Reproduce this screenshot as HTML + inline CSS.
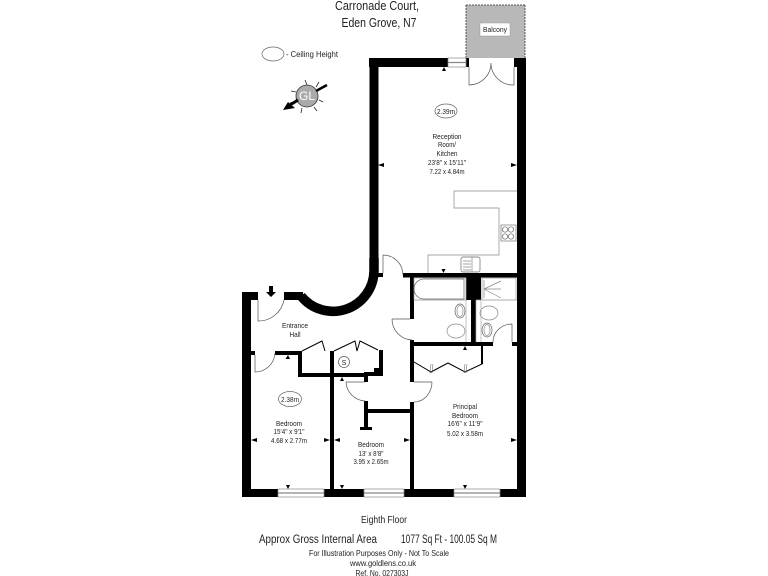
<!DOCTYPE html>
<html><head><meta charset="utf-8"><style>
html,body{margin:0;padding:0;background:#fff}
svg{display:block}
text{font-family:"Liberation Sans",sans-serif;fill:#222;text-anchor:middle;font-size:7.5px}
.s{text-anchor:start}
</style></head><body>
<svg width="768" height="576" viewBox="0 0 768 576" xmlns="http://www.w3.org/2000/svg">
<!-- balcony -->
<rect x="466" y="5" width="59" height="53" fill="#b8b8b8"/>
<path d="M466 5H525M466 5V58M525 5V58" fill="none" stroke="#555" stroke-width="1" stroke-dasharray="2 1"/>
<rect x="480" y="23" width="30" height="13" fill="#fff" stroke="#999" stroke-width=".5"/>
<text x="495" y="32" textLength="24" lengthAdjust="spacingAndGlyphs">Balcony</text>
<!-- solid walls -->
<g fill="#000">
<rect x="369" y="58" width="79" height="9"/>
<rect x="466" y="58" width="3" height="9"/>
<rect x="514" y="58" width="12" height="9"/>
<rect x="369.500" y="58" width="9" height="204"/>
<rect x="517" y="58" width="9" height="439"/>
<rect x="403" y="273" width="114" height="4.500"/>
<rect x="378" y="273" width="5" height="4"/>
<rect x="410" y="273" width="4" height="46"/>
<rect x="466" y="273" width="15" height="27"/>
<rect x="471" y="300" width="5" height="43"/>
<rect x="410" y="342" width="83" height="4"/>
<rect x="512" y="342" width="5" height="4"/>
<rect x="410" y="340" width="4" height="42"/>
<rect x="481" y="346" width="2" height="18"/>
<rect x="242" y="292" width="9" height="205"/>
<rect x="242" y="292" width="16" height="8"/>
<rect x="284" y="292" width="19" height="8"/>
<rect x="242" y="489" width="36" height="8"/>
<rect x="324" y="489" width="40" height="8"/>
<rect x="404" y="489" width="50" height="8"/>
<rect x="500" y="489" width="26" height="8"/>
<rect x="251" y="351" width="4" height="4"/>
<rect x="275" y="351" width="27" height="4"/>
<rect x="298" y="351" width="4" height="26"/>
<rect x="298" y="373" width="70" height="4"/>
<rect x="364" y="373" width="4" height="9"/>
<rect x="330" y="351" width="4" height="146"/>
<rect x="379" y="350" width="4" height="26"/>
<rect x="364" y="372" width="19" height="4"/>
<rect x="374" y="368" width="9" height="8"/>
<rect x="410" y="402" width="4" height="87"/>
<rect x="368" y="409" width="42" height="4"/>
<rect x="364" y="401" width="4" height="27"/>
<rect x="360" y="427" width="12" height="3"/>
</g>
<path d="M374 258V271A41 41 0 0 1 301 296" fill="none" stroke="#000" stroke-width="9.500"/>
<!-- windows -->
<g fill="#fff" stroke="#888" stroke-width=".7">
<rect x="448" y="58" width="18" height="9"/>
<rect x="278" y="489" width="46" height="8"/>
<rect x="364" y="489" width="40" height="8"/>
<rect x="454" y="489" width="46" height="8"/>
</g>
<path d="M448 62.500H466M278 493H324M364 493H404M454 493H500" stroke="#888" stroke-width="1.200" fill="none"/>
<!-- doors -->
<g fill="none" stroke="#555" stroke-width=".7">
<path d="M469 67V85A22 22 0 0 0 491 63A22 22 0 0 0 514 85V67"/>
<path d="M258 300V321A26 26 0 0 0 284 300"/>
<path d="M255 355V372A20 20 0 0 0 275 353"/>
<path d="M383 255V273M383 255A20 20 0 0 1 403 275"/>
<path d="M392 319H410M392 319A21 21 0 0 0 412 340"/>
<path d="M346 382H365M346 382A20 20 0 0 0 365 401"/>
<path d="M414 382H432M432 382A18 20 0 0 1 414 402"/>
<path d="M493 343V342A19 18 0 0 1 512 324V342"/>
<!-- kitchen -->
<path d="M517 191H454V208H499V255H428V273" stroke="#888"/>
<rect x="501" y="225" width="15" height="16" stroke="#777"/>
<circle cx="505" cy="229.500" r="2.700" stroke="#666"/><circle cx="511" cy="229.500" r="2.700" stroke="#666"/>
<circle cx="505" cy="236.500" r="2.700" stroke="#666"/><circle cx="511" cy="236.500" r="2.700" stroke="#666"/>
<rect x="461" y="257" width="19" height="15" rx="2" stroke="#666"/>
<path d="M472 257V272M463 261H471M463 264H471M463 267H471M463 270H471" stroke="#888"/>
<!-- bath / shower -->
<rect x="414" y="278" width="52" height="22" stroke="#999"/>
<path d="M464 279H424A10 10 0 0 0 424 299H464Z" stroke="#666"/>
<rect x="482" y="278" width="34" height="22" stroke="#999"/>
<path d="M484 289H501M484 289L501 281M484 289L501 298M484 280V298" stroke="#888"/>
<path d="M414 300H466M476 300H517M466 300V342M481 300V342M476 300V342" stroke="#aaa"/>
<ellipse cx="460" cy="311" rx="5" ry="7" stroke="#666"/><ellipse cx="460" cy="311" rx="3" ry="5.500" stroke="#888"/>
<ellipse cx="456" cy="331" rx="9" ry="7" stroke="#888"/>
<ellipse cx="489" cy="313" rx="9" ry="7" stroke="#888"/>
<ellipse cx="487" cy="330" rx="5" ry="7" stroke="#666"/><ellipse cx="487" cy="330" rx="3" ry="5.500" stroke="#888"/>
</g>
<!-- folding / closet doors -->
<g fill="none" stroke="#000" stroke-width="1">
<path d="M414 362L431 372L448 363L465 372L482 364"/>
<path d="M302 351L322 341L325 351"/>
<path d="M334 351L355 341L357 351L360 341L378 350"/>
</g>
<path d="M430 373L431 364M432 373L433 364M464 373L465 364M466 373L467 364" stroke="#555" stroke-width=".5"/>
<circle cx="344" cy="362" r="5.500" fill="#fff" stroke="#555" stroke-width=".7"/>
<text x="344" y="365" style="font-size:7px">S</text>
<!-- markers -->
<g fill="#000">
<path d="M442 71L444 67L446 71ZM441.500 269H445.500L443.500 273ZM463 350L465 346L467 350Z"/>
<path d="M285.500 359L288 355L290 359ZM340 381L342 377L344 381Z"/>
<path d="M286 485H290L288 489ZM340 485H344L342 489ZM463 485H467L465 489Z"/>
<path d="M378 165L384 163V167ZM517 165L511 163V167Z"/>
<path d="M251 440L257 438V442ZM330 440L324 438V442ZM334 440L340 438V442ZM410 440L404 438V442ZM517 440L511 438V442Z"/>
<path d="M269 286H273V292H276L271 297L266 292H269Z"/>
</g>
<!-- ceiling ellipses -->
<g fill="#fff" stroke="#666" stroke-width=".7">
<ellipse cx="273" cy="54" rx="11" ry="7"/>
<ellipse cx="446" cy="111" rx="11" ry="7"/>
<ellipse cx="290" cy="399" rx="11.500" ry="7.500"/>
</g>
<!-- compass -->
<g stroke="#222" stroke-width=".8">
<path d="M307 85L305 80M316 87L319 82M319 100L323 102M314 107L317 111M302 108L301 113M296 101L290 103M296 92L291 91"/>
</g>
<circle cx="307" cy="96" r="11" fill="#aaa" stroke="#333" stroke-width=".8"/>
<text x="307" y="100" style="font-size:12px;fill:#fff">GL</text>
<path d="M316 91L327 85" stroke="#000" stroke-width="2.500"/>
<path d="M298 100L290 105" stroke="#000" stroke-width="3"/>
<path d="M283 110L288 102L295 108Z" fill="#000"/>
<!-- labels -->
<text x="377" y="10" style="font-size:13px" textLength="84" lengthAdjust="spacingAndGlyphs">Carronade Court,</text>
<text x="379" y="27" style="font-size:13px" textLength="75" lengthAdjust="spacingAndGlyphs">Eden Grove, N7</text>
<text class="s" x="286" y="57" style="font-size:8px" textLength="52" lengthAdjust="spacingAndGlyphs">- Ceiling Height</text>
<text x="446" y="114" textLength="18" lengthAdjust="spacingAndGlyphs">2.39m</text>
<text x="447" y="139" textLength="29" lengthAdjust="spacingAndGlyphs">Reception</text>
<text x="447" y="147" textLength="18" lengthAdjust="spacingAndGlyphs">Room/</text>
<text x="447" y="156" textLength="21" lengthAdjust="spacingAndGlyphs">Kitchen</text>
<text x="447" y="165" textLength="38" lengthAdjust="spacingAndGlyphs">23'8" x 15'11"</text>
<text x="447" y="174" textLength="35" lengthAdjust="spacingAndGlyphs">7.22 x 4.84m</text>
<text x="295" y="328" textLength="26" lengthAdjust="spacingAndGlyphs">Entrance</text>
<text x="295" y="337" textLength="11" lengthAdjust="spacingAndGlyphs">Hall</text>
<text x="290" y="402" textLength="18" lengthAdjust="spacingAndGlyphs">2.38m</text>
<text x="289" y="426" textLength="26" lengthAdjust="spacingAndGlyphs">Bedroom</text>
<text x="289" y="434" textLength="31" lengthAdjust="spacingAndGlyphs">15'4" x 9'1"</text>
<text x="289" y="443" textLength="36" lengthAdjust="spacingAndGlyphs">4.68 x 2.77m</text>
<text x="371" y="447" textLength="26" lengthAdjust="spacingAndGlyphs">Bedroom</text>
<text x="371" y="456" textLength="25" lengthAdjust="spacingAndGlyphs">13' x 8'8"</text>
<text x="371" y="464" textLength="35" lengthAdjust="spacingAndGlyphs">3.95 x 2.65m</text>
<text x="465" y="409" textLength="24" lengthAdjust="spacingAndGlyphs">Principal</text>
<text x="465" y="418" textLength="26" lengthAdjust="spacingAndGlyphs">Bedroom</text>
<text x="465" y="426" textLength="35" lengthAdjust="spacingAndGlyphs">16'6" x 11'9"</text>
<text x="465" y="436" textLength="36" lengthAdjust="spacingAndGlyphs">5.02 x 3.58m</text>
<text x="384" y="523" style="font-size:10px" textLength="46" lengthAdjust="spacingAndGlyphs">Eighth Floor</text>
<text class="s" x="259" y="543" style="font-size:11.500px" textLength="118" lengthAdjust="spacingAndGlyphs">Approx Gross Internal Area</text>
<text class="s" x="401" y="543" style="font-size:11.500px" textLength="96" lengthAdjust="spacingAndGlyphs">1077 Sq Ft  - 100.05 Sq M</text>
<text x="379" y="556" style="font-size:8.500px" textLength="140" lengthAdjust="spacingAndGlyphs">For Illustration Purposes Only - Not To Scale</text>
<text x="383" y="566" style="font-size:8.500px" textLength="66" lengthAdjust="spacingAndGlyphs">www.goldlens.co.uk</text>
<text x="382" y="576" style="font-size:8.500px" textLength="53" lengthAdjust="spacingAndGlyphs">Ref. No. 027303J</text>
</svg>
</body></html>
